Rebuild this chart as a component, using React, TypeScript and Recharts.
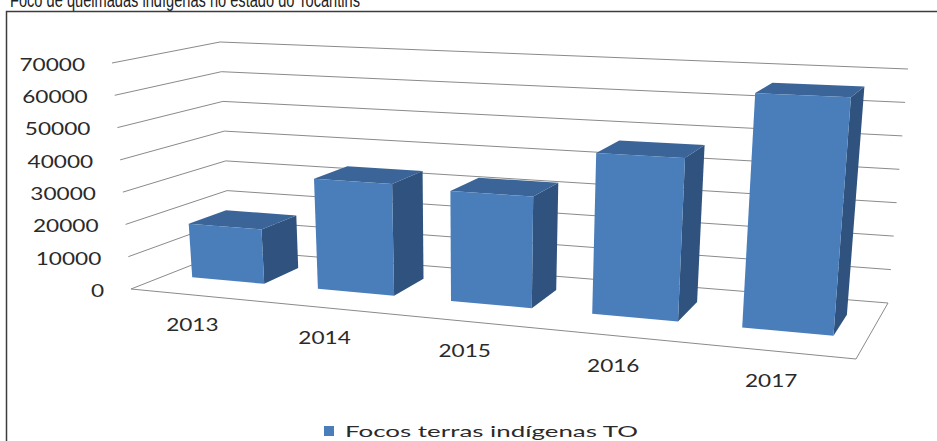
import React from "react";
import { BarChart, Bar, XAxis, YAxis, CartesianGrid, Legend } from "recharts";

// data
const title = "Foco de queimadas indígenas no estado do Tocantins";
const seriesName = "Focos terras indígenas TO";
const years = ["2013", "2014", "2015", "2016", "2017"];
const focos = [17000, 34000, 33000, 47000, 66500];
const yTicks = [0, 10000, 20000, 30000, 40000, 50000, 60000, 70000];
const Y_MAX = 70000;

const data = years.map((year, i) => ({ year, focos: focos[i] }));

// flat layout recharts works in; every mark is then projected into the 3d box
const W = 937;
const H = 441;
const MARGIN = { top: 20, right: 20, bottom: 0, left: 0 };
const Y_AXIS_W = 80;
const X_AXIS_H = 40;
const PL = MARGIN.left + Y_AXIS_W;
const PW = W - MARGIN.right - PL;
const PT = MARGIN.top;
const PH = H - MARGIN.bottom - X_AXIS_H - PT;
const PB = PT + PH;

type Pt = [number, number];

// screen corners of the plot box (F = front, B = back, L/R, 0 = floor, 1 = top)
const FL0: Pt = [131, 289];
const FL1: Pt = [112, 63];
const BL0: Pt = [230, 250];
const BL1: Pt = [220, 42];
const FR0: Pt = [856, 359];
const FR1: Pt = [876, 96];
const BR0: Pt = [888, 303];
const BR1: Pt = [908, 69];
const PERSP = 1.16; // foreshortening along the category axis
const DEPTH_FRONT = 0.36;
const DEPTH_BACK = 0.74;

const GRID = "#8a8a8a";
const TEXT = "#2a2a2a";
const FRONT = "#4A7EBB";
const TOP = "#3B6598";
const SIDE = "#2F537E";

const lerp = (a: Pt, b: Pt, t: number): Pt => [a[0] + (b[0] - a[0]) * t, a[1] + (b[1] - a[1]) * t];

function project(u: number, v: number, w: number): Pt {
  const uu = u / (PERSP + (1 - PERSP) * u);
  const f0 = lerp(FL0, FR0, uu);
  const f1 = lerp(FL1, FR1, uu);
  const b0 = lerp(BL0, BR0, uu);
  const b1 = lerp(BL1, BR1, uu);
  return lerp(lerp(f0, b0, w), lerp(f1, b1, w), v);
}

const poly = (pts: Pt[]) => pts.map((p) => `${p[0].toFixed(1)},${p[1].toFixed(1)}`).join(" ");

function Box3D(props: any) {
  const { x, y, width } = props;
  if (x == null || y == null) return null;
  const u0 = (x - PL) / PW;
  const u1 = (x + width - PL) / PW;
  const v = (PB - y) / PH;
  const a = DEPTH_FRONT;
  const b = DEPTH_BACK;
  const side = [project(u1, 0, a), project(u1, v, a), project(u1, v, b), project(u1, 0, b)];
  const top = [project(u0, v, a), project(u1, v, a), project(u1, v, b), project(u0, v, b)];
  const front = [project(u0, 0, a), project(u1, 0, a), project(u1, v, a), project(u0, v, a)];
  return (
    <g>
      <polygon points={poly(side)} fill={SIDE} />
      <polygon points={poly(top)} fill={TOP} />
      <polygon points={poly(front)} fill={FRONT} />
    </g>
  );
}

function WallLine(props: any) {
  const v = (PB - props.y1) / PH;
  if (Math.abs(v) < 0.001) {
    const floor = [project(0, 0, 0), project(0, 0, 1), project(1, 0, 1), project(1, 0, 0)];
    return <polygon key={props.key} points={poly(floor)} fill="none" stroke={GRID} strokeWidth={1} />;
  }
  const line = [project(0, v, 0), project(0, v, 1), project(1, v, 1)];
  return <polyline key={props.key} points={poly(line)} fill="none" stroke={GRID} strokeWidth={1} />;
}

function YTick(props: any) {
  const { payload } = props;
  const [px, py] = project(0, payload.value / Y_MAX, 0);
  return (
    <text
      transform={`translate(${px - 27},${py + 1}) scale(1.33,1)`}
      textAnchor="end"
      dominantBaseline="central"
      fontFamily="Lato"
      fontSize={17}
      fill={TEXT}
    >
      {payload.value}
    </text>
  );
}

function XTick(props: any) {
  const { x, payload } = props;
  const [px, py] = project((x - PL) / PW, 0, 0);
  return (
    <text
      transform={`translate(${px - 2},${py + 29}) scale(1.33,1)`}
      textAnchor="middle"
      dominantBaseline="central"
      fontFamily="Lato"
      fontSize={17}
      fill={TEXT}
    >
      {payload.value}
    </text>
  );
}

function LegendContent(props: any) {
  const item = props.payload && props.payload[0];
  if (!item) return null;
  return (
    <svg width={W} height={21} style={{ display: "block" }}>
      <rect x={324} y={6} width={10} height={10} fill={item.color} />
      <text x={345} y={17} fontFamily="Lato" fontSize={16} fill={TEXT} textLength={293} lengthAdjust="spacingAndGlyphs">
        {item.value}
      </text>
    </svg>
  );
}

export default function App() {
  return (
    <div style={{ position: "absolute", left: 0, top: 0, width: W, height: H, background: "#fff", overflow: "hidden" }}>
      <svg width={W} height={H} style={{ position: "absolute", left: 0, top: 0 }}>
        <text x={10} y={7} fontFamily="Liberation Sans" fontSize={20} fill="#222" textLength={350} lengthAdjust="spacingAndGlyphs">
          {title}
        </text>
        <rect x={6.5} y={11.5} width={940} height={440} fill="none" stroke="#3c3c3c" strokeWidth={1.5} />
      </svg>
      <div style={{ position: "absolute", left: 0, top: 0 }}>
        <BarChart width={W} height={H} data={data} margin={MARGIN} barCategoryGap="21%">
          <CartesianGrid vertical={false} horizontal={WallLine} syncWithTicks />
          <XAxis dataKey="year" height={X_AXIS_H} axisLine={false} tickLine={false} tick={XTick} interval={0} />
          <YAxis
            type="number"
            domain={[0, Y_MAX]}
            ticks={yTicks}
            width={Y_AXIS_W}
            axisLine={false}
            tickLine={false}
            tick={YTick}
            interval={0}
          />
          <Legend
            verticalAlign="middle"
            align="center"
            wrapperStyle={{ top: 420, left: 0, width: W, height: 21 }}
            content={LegendContent}
          />
          <Bar dataKey="focos" name={seriesName} fill={FRONT} shape={Box3D} isAnimationActive={false} />
        </BarChart>
      </div>
    </div>
  );
}
